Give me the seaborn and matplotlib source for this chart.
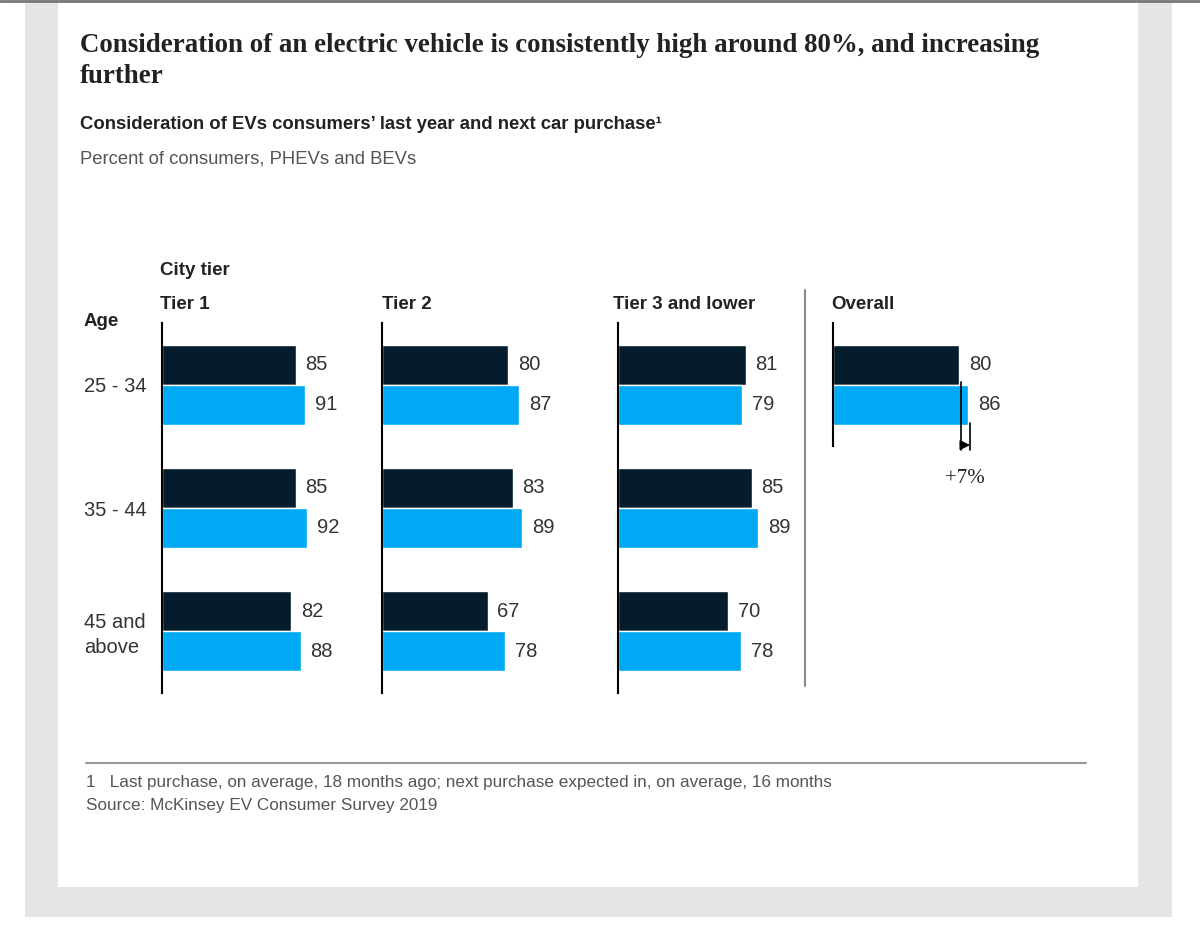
import pandas as pd
import matplotlib.pyplot as plt
import seaborn as sns
from matplotlib.patches import Rectangle

W, H = 1200, 932

AGE_GROUPS = ["25 - 34", "35 - 44", "45 and\nabove"]
TIERS = ["Tier 1", "Tier 2", "Tier 3 and lower"]
PERIODS = ["Last purchase", "Next purchase"]

LAST_PURCHASE = {
    "Tier 1": [85, 85, 82],
    "Tier 2": [80, 83, 67],
    "Tier 3 and lower": [81, 85, 70],
}
NEXT_PURCHASE = {
    "Tier 1": [91, 92, 88],
    "Tier 2": [87, 89, 78],
    "Tier 3 and lower": [79, 89, 78],
}
OVERALL_LAST = 80
OVERALL_NEXT = 86
OVERALL_CHANGE = "+7%"

DARK = "#051c2c"
BLUE = "#00a9f4"
TEXT = "#222222"
GREY_TEXT = "#555555"

sns.set_style("white")
plt.rcParams["font.family"] = ["Liberation Sans", "DejaVu Sans"]


def fx(x):
    return x / W


def fy(y):
    return 1 - y / H


def build_df(tier):
    rows = []
    for i, age in enumerate(AGE_GROUPS):
        rows.append({"age": age, "period": PERIODS[0], "value": LAST_PURCHASE[tier][i]})
        rows.append({"age": age, "period": PERIODS[1], "value": NEXT_PURCHASE[tier][i]})
    return pd.DataFrame(rows)


def style_axes(ax, n_rows):
    ax.set_xlim(0, 100)
    ax.set_ylim(n_rows - 0.5, -0.5)
    ax.set_xlabel("")
    ax.set_ylabel("")
    ax.set_xticks([])
    ax.set_yticks([])
    for side in ["top", "right", "bottom"]:
        ax.spines[side].set_visible(False)
    ax.spines["left"].set_color("black")
    ax.spines["left"].set_linewidth(1.5)
    ax.patch.set_alpha(0)


def draw_bars(ax, df):
    sns.barplot(
        data=df, y="age", x="value", hue="period", orient="h",
        hue_order=PERIODS, palette=[DARK, BLUE], saturation=1,
        width=0.65, edgecolor="white", linewidth=1, legend=False, ax=ax,
    )
    for cont in ax.containers:
        ax.bar_label(cont, padding=7, fontsize=14.5, color="#333333")


fig = plt.figure(figsize=(W / 100, H / 100), dpi=100)

# page background
fig.add_artist(Rectangle((fx(25), fy(917)), fx(1147), 917 / H,
                         transform=fig.transFigure, facecolor="#e5e5e5",
                         edgecolor="none", zorder=-10))
fig.add_artist(Rectangle((fx(58), fy(887)), fx(1080), 885 / H,
                         transform=fig.transFigure, facecolor="white",
                         edgecolor="none", zorder=-9))
fig.add_artist(plt.Line2D([0, 1], [fy(1), fy(1)], transform=fig.transFigure,
                          color="#777777", lw=2, zorder=-8))

# panels
row_px = 123.3
panel_x = [162, 382, 618]
scale = 1.575  # px per percentage point
for tier, x0 in zip(TIERS, panel_x):
    ax = fig.add_axes([fx(x0), fy(323 + 3 * row_px), 100 * scale / W, 3 * row_px / H])
    draw_bars(ax, build_df(tier))
    style_axes(ax, 3)

ax_o = fig.add_axes([fx(833), fy(323 + row_px), 100 * scale / W, row_px / H])
overall_df = pd.DataFrame({
    "age": ["Overall", "Overall"],
    "period": PERIODS,
    "value": [OVERALL_LAST, OVERALL_NEXT],
})
draw_bars(ax_o, overall_df)
style_axes(ax_o, 1)

# change annotation
ax_o.plot([OVERALL_LAST + 1, OVERALL_LAST + 1], [-0.02, 0.53], color="black",
          lw=1.2, clip_on=False)
ax_o.plot([OVERALL_NEXT + 1, OVERALL_NEXT + 1], [0.31, 0.53], color="black",
          lw=1.2, clip_on=False)
ax_o.annotate("", xy=(OVERALL_NEXT + 1, 0.49), xytext=(OVERALL_LAST + 1, 0.49),
              arrowprops=dict(arrowstyle="-|>,head_length=0.6,head_width=0.3",
                              color="black", lw=1, shrinkA=0, shrinkB=0),
              annotation_clip=False)
ax_o.text((OVERALL_LAST + OVERALL_NEXT) / 2 + 1, 0.76, OVERALL_CHANGE,
          ha="center", va="center", fontsize=15, color=TEXT,
          family=["Liberation Serif", "DejaVu Serif"], clip_on=False)

# separator between tiers and overall
fig.add_artist(plt.Line2D([fx(805), fx(805)], [fy(290), fy(686)],
                          transform=fig.transFigure, color="#888888", lw=1.5))

# titles
fig.text(fx(80), fy(52), "Consideration of an electric vehicle is consistently high around 80%, and increasing",
         fontsize=19.4, fontweight="bold", color=TEXT, va="baseline",
         family=["Liberation Serif", "DejaVu Serif"])
fig.text(fx(80), fy(83), "further", fontsize=19.4, fontweight="bold", color=TEXT,
         va="baseline", family=["Liberation Serif", "DejaVu Serif"])
fig.text(fx(80), fy(129), "Consideration of EVs consumers’ last year and next car purchase¹",
         fontsize=13.3, fontweight="bold", color=TEXT, va="baseline")
fig.text(fx(80), fy(164), "Percent of consumers, PHEVs and BEVs",
         fontsize=13.3, color=GREY_TEXT, va="baseline")

# headers
fig.text(fx(160), fy(275), "City tier", fontsize=13.5, fontweight="bold", color=TEXT, va="baseline")
for tier, x0 in zip(TIERS + ["Overall"], [160, 382, 613, 831]):
    fig.text(fx(x0), fy(309), tier, fontsize=13.5, fontweight="bold", color=TEXT, va="baseline")
fig.text(fx(84), fy(326), "Age", fontsize=13.5, fontweight="bold", color=TEXT, va="baseline")

# age labels
for i, age in enumerate(AGE_GROUPS):
    fig.text(fx(84), fy(387 + i * row_px + (1 if "\n" in age else 0)), age,
             fontsize=14.5, color="#333333", va="center", linespacing=1.4)

# footnote
fig.add_artist(plt.Line2D([fx(86), fx(1086)], [fy(763), fy(763)],
                          transform=fig.transFigure, color="#999999", lw=1.5))
fig.text(fx(86), fy(787),
         "1   Last purchase, on average, 18 months ago; next purchase expected in, on average, 16 months",
         fontsize=12.3, color=GREY_TEXT, va="baseline")
fig.text(fx(86), fy(810), "Source: McKinsey EV Consumer Survey 2019",
         fontsize=12.3, color=GREY_TEXT, va="baseline")

fig.savefig("out.png", dpi=100)
